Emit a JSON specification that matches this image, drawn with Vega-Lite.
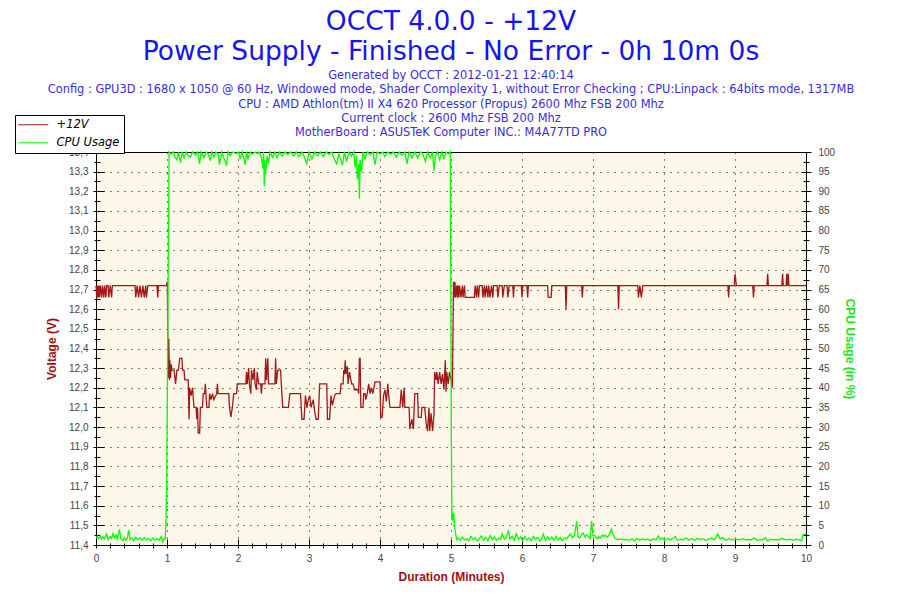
{
  "$schema": "https://vega.github.io/schema/vega-lite/v6.json",
  "width": 710,
  "height": 393,
  "autosize": "none",
  "padding": {"left": 96, "top": 152, "right": 94, "bottom": 55},
  "background": "white",
  "title": {
    "text": ["OCCT 4.0.0 - +12V", "Power Supply - Finished - No Error - 0h 10m 0s"],
    "subtitle": [
      "Generated by OCCT : 2012-01-21 12:40:14",
      "Config : GPU3D : 1680 x 1050 @ 60 Hz, Windowed mode, Shader Complexity 1, without Error Checking ; CPU:Linpack : 64bits mode, 1317MB",
      "CPU : AMD Athlon(tm) II X4 620 Processor (Propus) 2600 Mhz FSB 200 Mhz",
      "Current clock : 2600 Mhz FSB 200 Mhz",
      "MotherBoard : ASUSTeK Computer INC.: M4A77TD PRO"
    ],
    "anchor": "middle",
    "frame": "group",
    "font": "DejaVu Sans",
    "fontSize": 26.5,
    "fontWeight": "normal",
    "color": "#1414F0",
    "lineHeight": 30,
    "subtitleFont": "DejaVu Sans",
    "subtitleFontSize": 11.4,
    "subtitleColor": "#3a2be0",
    "subtitleLineHeight": 14.2,
    "subtitlePadding": 5,
    "offset": -24
  },
  "datasets": {
    "volt": [
      {"t":0,"v":12.72},{"t":0.01,"v":12.66},{"t":0.02,"v":12.72},{"t":0.03,"v":12.66},{"t":0.04,"v":12.72},{"t":0.05,"v":12.66},{"t":0.06,"v":12.72},{"t":0.08,"v":12.66},{"t":0.09,"v":12.72},{"t":0.11,"v":12.66},{"t":0.12,"v":12.72},{"t":0.14,"v":12.66},{"t":0.15,"v":12.72},{"t":0.17,"v":12.72},{"t":0.18,"v":12.66},{"t":0.2,"v":12.72},{"t":0.22,"v":12.66},{"t":0.23,"v":12.72},{"t":0.26,"v":12.72},
      {"t":0.55,"v":12.72},{"t":0.56,"v":12.66},{"t":0.58,"v":12.72},{"t":0.6,"v":12.66},{"t":0.62,"v":12.72},{"t":0.64,"v":12.66},{"t":0.66,"v":12.72},{"t":0.68,"v":12.66},{"t":0.7,"v":12.72},{"t":0.71,"v":12.66},{"t":0.73,"v":12.72},{"t":0.86,"v":12.72},{"t":0.87,"v":12.66},{"t":0.88,"v":12.72},{"t":0.99,"v":12.72},{"t":1.005,"v":12.74},
      {"t":1.015,"v":12.25},{"t":1.025,"v":12.45},{"t":1.035,"v":12.24},{"t":1.04,"v":12.34},{"t":1.05,"v":12.25},{"t":1.06,"v":12.32},{"t":1.07,"v":12.29},{"t":1.1,"v":12.29},{"t":1.12,"v":12.22},{"t":1.14,"v":12.29},{"t":1.16,"v":12.29},{"t":1.18,"v":12.35},{"t":1.21,"v":12.35},{"t":1.22,"v":12.29},{"t":1.24,"v":12.29},{"t":1.25,"v":12.24},{"t":1.3,"v":12.24},{"t":1.31,"v":12.04},{"t":1.32,"v":12.2},{"t":1.34,"v":12.16},{"t":1.36,"v":12.2},{"t":1.38,"v":12.1},{"t":1.41,"v":12.1},{"t":1.42,"v":12.04},{"t":1.43,"v":12.1},{"t":1.44,"v":11.97},{"t":1.46,"v":11.97},{"t":1.47,"v":12.1},{"t":1.5,"v":12.1},{"t":1.51,"v":12.17},{"t":1.53,"v":12.17},{"t":1.54,"v":12.22},{"t":1.56,"v":12.1},{"t":1.59,"v":12.1},{"t":1.6,"v":12.17},{"t":1.62,"v":12.14},{"t":1.64,"v":12.17},{"t":1.66,"v":12.14},{"t":1.7,"v":12.17},{"t":1.71,"v":12.22},{"t":1.72,"v":12.17},{"t":1.87,"v":12.17},{"t":1.88,"v":12.1},{"t":1.9,"v":12.05},{"t":1.92,"v":12.1},{"t":1.94,"v":12.17},{"t":1.98,"v":12.17},{"t":1.99,"v":12.22},
      {"t":2.11,"v":12.22},{"t":2.12,"v":12.28},{"t":2.13,"v":12.22},{"t":2.15,"v":12.3},{"t":2.16,"v":12.22},{"t":2.18,"v":12.17},{"t":2.19,"v":12.29},{"t":2.21,"v":12.24},{"t":2.23,"v":12.3},{"t":2.24,"v":12.22},{"t":2.26,"v":12.19},{"t":2.27,"v":12.28},{"t":2.29,"v":12.22},{"t":2.32,"v":12.22},{"t":2.33,"v":12.17},{"t":2.34,"v":12.22},{"t":2.38,"v":12.22},{"t":2.39,"v":12.35},{"t":2.4,"v":12.24},{"t":2.42,"v":12.35},{"t":2.43,"v":12.22},{"t":2.52,"v":12.22},{"t":2.53,"v":12.35},{"t":2.54,"v":12.22},{"t":2.56,"v":12.29},{"t":2.6,"v":12.29},{"t":2.61,"v":12.22},{"t":2.63,"v":12.1},{"t":2.71,"v":12.1},{"t":2.73,"v":12.17},{"t":2.88,"v":12.17},{"t":2.9,"v":12.04},{"t":2.93,"v":12.04},{"t":2.95,"v":12.16},{"t":2.97,"v":12.1},{"t":2.99,"v":12.14},
      {"t":3.01,"v":12.16},{"t":3.03,"v":12.1},{"t":3.06,"v":12.14},{"t":3.08,"v":12.08},{"t":3.1,"v":12.04},{"t":3.13,"v":12.04},{"t":3.15,"v":12.22},{"t":3.25,"v":12.22},{"t":3.26,"v":12.04},{"t":3.29,"v":12.04},{"t":3.31,"v":12.16},{"t":3.33,"v":12.11},{"t":3.36,"v":12.16},{"t":3.38,"v":12.17},{"t":3.44,"v":12.17},{"t":3.45,"v":12.22},{"t":3.48,"v":12.22},{"t":3.49,"v":12.29},{"t":3.5,"v":12.27},{"t":3.51,"v":12.34},{"t":3.52,"v":12.27},{"t":3.54,"v":12.31},{"t":3.55,"v":12.22},{"t":3.57,"v":12.28},{"t":3.6,"v":12.22},{"t":3.62,"v":12.22},{"t":3.64,"v":12.19},{"t":3.69,"v":12.19},{"t":3.7,"v":12.17},{"t":3.71,"v":12.35},{"t":3.72,"v":12.35},{"t":3.73,"v":12.1},{"t":3.76,"v":12.1},{"t":3.77,"v":12.17},{"t":3.79,"v":12.17},{"t":3.8,"v":12.14},{"t":3.82,"v":12.17},{"t":3.84,"v":12.22},{"t":3.86,"v":12.17},{"t":3.88,"v":12.2},{"t":3.9,"v":12.17},{"t":3.93,"v":12.23},
      {"t":4.0,"v":12.23},{"t":4.01,"v":12.05},{"t":4.03,"v":12.05},{"t":4.05,"v":12.16},{"t":4.07,"v":12.19},{"t":4.09,"v":12.13},{"t":4.11,"v":12.22},{"t":4.12,"v":12.17},{"t":4.14,"v":12.1},{"t":4.28,"v":12.1},{"t":4.3,"v":12.19},{"t":4.32,"v":12.1},{"t":4.34,"v":12.2},{"t":4.35,"v":12.1},{"t":4.41,"v":12.1},{"t":4.42,"v":11.99},{"t":4.45,"v":12.04},{"t":4.47,"v":11.99},{"t":4.49,"v":12.17},{"t":4.53,"v":12.17},{"t":4.54,"v":12.05},{"t":4.58,"v":12.05},{"t":4.59,"v":12.1},{"t":4.63,"v":12.1},{"t":4.65,"v":12.02},{"t":4.67,"v":11.98},{"t":4.69,"v":12.1},{"t":4.7,"v":11.98},{"t":4.72,"v":12.07},{"t":4.74,"v":11.98},{"t":4.76,"v":12.06},{"t":4.77,"v":12.28},{"t":4.79,"v":12.24},{"t":4.8,"v":12.28},{"t":4.82,"v":12.22},{"t":4.84,"v":12.28},{"t":4.86,"v":12.22},{"t":4.88,"v":12.27},{"t":4.9,"v":12.19},{"t":4.92,"v":12.34},{"t":4.93,"v":12.18},{"t":4.94,"v":12.28},{"t":4.96,"v":12.22},{"t":4.98,"v":12.28},{"t":5.0,"v":12.24},{"t":5.02,"v":12.2},
      {"t":5.035,"v":12.74},{"t":5.045,"v":12.66},{"t":5.055,"v":12.74},{"t":5.065,"v":12.66},{"t":5.08,"v":12.72},{"t":5.09,"v":12.66},{"t":5.1,"v":12.72},{"t":5.11,"v":12.66},{"t":5.12,"v":12.72},{"t":5.14,"v":12.66},{"t":5.16,"v":12.72},{"t":5.17,"v":12.66},{"t":5.19,"v":12.72},{"t":5.2,"v":12.66},{"t":5.33,"v":12.66},{"t":5.34,"v":12.72},{"t":5.36,"v":12.66},{"t":5.37,"v":12.72},{"t":5.39,"v":12.66},{"t":5.4,"v":12.72},{"t":5.44,"v":12.72},{"t":5.45,"v":12.66},{"t":5.47,"v":12.72},{"t":5.48,"v":12.66},{"t":5.5,"v":12.72},{"t":5.52,"v":12.66},{"t":5.53,"v":12.72},{"t":5.55,"v":12.66},{"t":5.57,"v":12.72},{"t":5.59,"v":12.66},{"t":5.6,"v":12.72},{"t":5.65,"v":12.72},{"t":5.66,"v":12.66},{"t":5.68,"v":12.72},{"t":5.72,"v":12.72},{"t":5.73,"v":12.66},{"t":5.75,"v":12.72},{"t":5.79,"v":12.72},{"t":5.8,"v":12.66},{"t":5.82,"v":12.72},{"t":5.87,"v":12.72},{"t":5.88,"v":12.66},{"t":5.89,"v":12.72},{"t":5.99,"v":12.72},{"t":6.0,"v":12.66},{"t":6.01,"v":12.72},{"t":6.07,"v":12.72},{"t":6.08,"v":12.66},{"t":6.09,"v":12.72},{"t":6.36,"v":12.72},{"t":6.37,"v":12.66},{"t":6.41,"v":12.66},{"t":6.42,"v":12.72},{"t":6.61,"v":12.72},{"t":6.62,"v":12.6},{"t":6.63,"v":12.72},{"t":6.84,"v":12.72},{"t":6.85,"v":12.66},{"t":6.86,"v":12.72},{"t":7.35,"v":12.72},{"t":7.36,"v":12.6},{"t":7.37,"v":12.72},{"t":7.63,"v":12.72},{"t":7.64,"v":12.66},{"t":7.66,"v":12.72},{"t":7.68,"v":12.66},{"t":7.7,"v":12.72},{"t":8.9,"v":12.72},{"t":8.91,"v":12.66},{"t":8.92,"v":12.72},{"t":8.99,"v":12.72},{"t":9.0,"v":12.78},{"t":9.02,"v":12.72},{"t":9.25,"v":12.72},{"t":9.26,"v":12.66},{"t":9.27,"v":12.72},{"t":9.45,"v":12.72},{"t":9.46,"v":12.78},{"t":9.47,"v":12.72},{"t":9.66,"v":12.72},{"t":9.67,"v":12.78},{"t":9.68,"v":12.72},{"t":9.72,"v":12.72},{"t":9.73,"v":12.78},{"t":9.74,"v":12.72},{"t":9.75,"v":12.78},{"t":9.76,"v":12.72},{"t":10,"v":12.72}
    ],
    "cpu": [
      {"t":0,"c":1.8},{"t":0.02,"c":2.2},{"t":0.04,"c":1.6},{"t":0.06,"c":2.4},{"t":0.08,"c":1.5},{"t":0.1,"c":2.1},{"t":0.12,"c":1.6},{"t":0.15,"c":2.8},{"t":0.17,"c":1.4},{"t":0.2,"c":2.2},{"t":0.22,"c":1.6},{"t":0.24,"c":2.9},{"t":0.26,"c":1.8},{"t":0.28,"c":2.6},{"t":0.3,"c":1.5},{"t":0.33,"c":4.0},{"t":0.35,"c":1.6},{"t":0.38,"c":1.1},{"t":0.4,"c":1.9},{"t":0.42,"c":1.2},{"t":0.44,"c":1.6},{"t":0.46,"c":3.8},{"t":0.48,"c":1.4},{"t":0.5,"c":1.8},{"t":0.53,"c":1.1},{"t":0.56,"c":2.0},{"t":0.59,"c":1.3},{"t":0.62,"c":1.8},{"t":0.65,"c":1.2},{"t":0.68,"c":1.9},{"t":0.71,"c":1.3},{"t":0.74,"c":1.7},{"t":0.77,"c":1.1},{"t":0.8,"c":1.8},{"t":0.83,"c":1.3},{"t":0.86,"c":1.6},{"t":0.89,"c":1.2},{"t":0.92,"c":2.2},{"t":0.94,"c":0.8},{"t":0.96,"c":1.7},{"t":0.975,"c":1.5},{"t":0.985,"c":6},{"t":0.995,"c":14},{"t":1.005,"c":38},{"t":1.02,"c":78},{"t":1.03,"c":100},
      {"t":1.06,"c":99.5},{"t":1.09,"c":100},{"t":1.11,"c":98.8},{"t":1.14,"c":98},{"t":1.16,"c":100},{"t":1.19,"c":97.3},{"t":1.21,"c":100},{"t":1.24,"c":98.5},{"t":1.27,"c":100},{"t":1.3,"c":99},{"t":1.33,"c":98.7},{"t":1.36,"c":100},{"t":1.4,"c":99.3},{"t":1.43,"c":100},{"t":1.46,"c":97},{"t":1.48,"c":100},{"t":1.52,"c":98.5},{"t":1.55,"c":100},{"t":1.58,"c":99.5},{"t":1.61,"c":97.8},{"t":1.63,"c":100},{"t":1.66,"c":98.7},{"t":1.69,"c":100},{"t":1.72,"c":99.5},{"t":1.74,"c":96.8},{"t":1.77,"c":100},{"t":1.8,"c":98.5},{"t":1.84,"c":96.8},{"t":1.86,"c":100},{"t":1.89,"c":99},{"t":1.92,"c":100},{"t":1.95,"c":99.8},{"t":1.98,"c":99.6},
      {"t":2.01,"c":100},{"t":2.03,"c":98.2},{"t":2.06,"c":100},{"t":2.1,"c":96.8},{"t":2.12,"c":100},{"t":2.14,"c":98.3},{"t":2.17,"c":100},{"t":2.2,"c":99.4},{"t":2.24,"c":100},{"t":2.27,"c":99.6},{"t":2.3,"c":100},{"t":2.33,"c":98.5},{"t":2.35,"c":95.9},{"t":2.36,"c":100},{"t":2.37,"c":91.3},{"t":2.38,"c":98},{"t":2.39,"c":94.5},{"t":2.41,"c":99},{"t":2.43,"c":97},{"t":2.45,"c":100},{"t":2.49,"c":98.6},{"t":2.52,"c":100},{"t":2.55,"c":98.5},{"t":2.58,"c":100},{"t":2.62,"c":99},{"t":2.66,"c":100},{"t":2.7,"c":99.4},{"t":2.74,"c":100},{"t":2.78,"c":99},{"t":2.82,"c":100},{"t":2.86,"c":98.8},{"t":2.9,"c":100},{"t":2.93,"c":99},{"t":2.97,"c":97},
      {"t":3.0,"c":100},{"t":3.04,"c":98.2},{"t":3.08,"c":100},{"t":3.12,"c":99},{"t":3.16,"c":100},{"t":3.2,"c":98.8},{"t":3.24,"c":100},{"t":3.28,"c":99.4},{"t":3.32,"c":100},{"t":3.36,"c":98},{"t":3.39,"c":97},{"t":3.42,"c":99.6},{"t":3.45,"c":98},{"t":3.47,"c":96.6},{"t":3.5,"c":100},{"t":3.53,"c":97.5},{"t":3.56,"c":100},{"t":3.6,"c":99},{"t":3.63,"c":100},{"t":3.65,"c":96},{"t":3.67,"c":99},{"t":3.68,"c":93},{"t":3.7,"c":97},{"t":3.71,"c":88.1},{"t":3.72,"c":98},{"t":3.74,"c":95},{"t":3.76,"c":100},{"t":3.79,"c":98.3},{"t":3.82,"c":100},{"t":3.86,"c":99.3},{"t":3.9,"c":100},{"t":3.93,"c":96.8},{"t":3.96,"c":100},
      {"t":4.0,"c":99.5},{"t":4.04,"c":100},{"t":4.07,"c":98.8},{"t":4.11,"c":100},{"t":4.15,"c":99.4},{"t":4.19,"c":100},{"t":4.23,"c":98.7},{"t":4.27,"c":100},{"t":4.31,"c":99.2},{"t":4.35,"c":100},{"t":4.38,"c":97},{"t":4.41,"c":100},{"t":4.45,"c":98.5},{"t":4.49,"c":100},{"t":4.53,"c":98.5},{"t":4.57,"c":100},{"t":4.6,"c":99.6},{"t":4.64,"c":97.6},{"t":4.67,"c":100},{"t":4.71,"c":98.5},{"t":4.74,"c":100},{"t":4.76,"c":95.2},{"t":4.78,"c":99},{"t":4.81,"c":100},{"t":4.84,"c":98},{"t":4.87,"c":100},{"t":4.9,"c":98.3},{"t":4.93,"c":100},{"t":4.96,"c":99.5},{"t":4.99,"c":100},{"t":4.995,"c":73.8},{"t":5.005,"c":27.6},{"t":5.012,"c":6.4},{"t":5.02,"c":8.5},{"t":5.03,"c":6},{"t":5.04,"c":8},{"t":5.05,"c":4.5},{"t":5.06,"c":3.5},{"t":5.08,"c":1.3},
      {"t":5.1,"c":1.8},{"t":5.13,"c":1.2},{"t":5.16,"c":2.0},{"t":5.19,"c":1.3},{"t":5.22,"c":1.6},{"t":5.25,"c":1.1},{"t":5.28,"c":2.2},{"t":5.31,"c":1.4},{"t":5.34,"c":1.8},{"t":5.37,"c":1.0},{"t":5.4,"c":1.6},{"t":5.43,"c":2.3},{"t":5.46,"c":1.2},{"t":5.49,"c":1.9},{"t":5.52,"c":1.1},{"t":5.55,"c":2.4},{"t":5.58,"c":1.3},{"t":5.61,"c":2.0},{"t":5.64,"c":1.2},{"t":5.67,"c":1.7},{"t":5.7,"c":1.4},{"t":5.72,"c":2.8},{"t":5.75,"c":1.5},{"t":5.78,"c":2.0},{"t":5.81,"c":3.8},{"t":5.83,"c":1.6},{"t":5.86,"c":2.2},{"t":5.89,"c":1.2},{"t":5.92,"c":2.9},{"t":5.95,"c":1.5},{"t":5.98,"c":2.0},
      {"t":6.01,"c":1.0},{"t":6.04,"c":2.1},{"t":6.07,"c":1.3},{"t":6.1,"c":1.8},{"t":6.13,"c":1.1},{"t":6.16,"c":2.2},{"t":6.19,"c":1.4},{"t":6.22,"c":1.9},{"t":6.25,"c":1.0},{"t":6.28,"c":1.7},{"t":6.3,"c":2.8},{"t":6.33,"c":1.2},{"t":6.36,"c":2.1},{"t":6.39,"c":1.4},{"t":6.42,"c":2.0},{"t":6.45,"c":1.2},{"t":6.48,"c":2.2},{"t":6.51,"c":1.3},{"t":6.54,"c":1.9},{"t":6.57,"c":1.1},{"t":6.6,"c":1.8},{"t":6.63,"c":1.6},{"t":6.66,"c":2.3},{"t":6.68,"c":2.8},{"t":6.71,"c":1.8},{"t":6.74,"c":2.5},{"t":6.77,"c":6.1},{"t":6.79,"c":2.0},{"t":6.81,"c":1.8},{"t":6.84,"c":2.6},{"t":6.86,"c":3.0},{"t":6.89,"c":2.0},{"t":6.91,"c":2.6},{"t":6.93,"c":2.2},{"t":6.96,"c":1.6},{"t":6.98,"c":6.1},
      {"t":7.0,"c":2.4},{"t":7.03,"c":2.4},{"t":7.06,"c":1.6},{"t":7.08,"c":2.2},{"t":7.1,"c":1.7},{"t":7.13,"c":2.5},{"t":7.15,"c":2.2},{"t":7.17,"c":2.5},{"t":7.2,"c":2.0},{"t":7.23,"c":2.6},{"t":7.26,"c":4.0},{"t":7.28,"c":2.8},{"t":7.31,"c":1.7},{"t":7.35,"c":1.4},{"t":7.39,"c":1.5},{"t":7.43,"c":1.3},{"t":7.47,"c":1.4},{"t":7.51,"c":1.2},{"t":7.55,"c":1.6},{"t":7.58,"c":1.0},{"t":7.62,"c":1.7},{"t":7.66,"c":1.2},{"t":7.7,"c":1.6},{"t":7.73,"c":1.3},{"t":7.77,"c":1.5},{"t":7.81,"c":1.1},{"t":7.85,"c":1.6},{"t":7.89,"c":1.3},{"t":7.92,"c":2.3},{"t":7.95,"c":1.4},{"t":7.98,"c":1.8},
      {"t":8.01,"c":1.0},{"t":8.05,"c":1.7},{"t":8.08,"c":1.3},{"t":8.12,"c":1.6},{"t":8.16,"c":2.1},{"t":8.19,"c":1.2},{"t":8.23,"c":1.5},{"t":8.27,"c":1.3},{"t":8.31,"c":1.8},{"t":8.35,"c":1.3},{"t":8.39,"c":1.6},{"t":8.43,"c":1.2},{"t":8.47,"c":1.7},{"t":8.51,"c":1.3},{"t":8.55,"c":1.6},{"t":8.59,"c":1.2},{"t":8.63,"c":1.5},{"t":8.67,"c":1.8},{"t":8.71,"c":1.3},{"t":8.76,"c":2.8},{"t":8.79,"c":1.5},{"t":8.83,"c":1.9},{"t":8.87,"c":1.2},{"t":8.91,"c":1.6},{"t":8.95,"c":1.3},{"t":8.99,"c":1.4},
      {"t":9.03,"c":1.4},{"t":9.07,"c":1.3},{"t":9.11,"c":1.6},{"t":9.15,"c":1.3},{"t":9.19,"c":1.4},{"t":9.23,"c":1.3},{"t":9.27,"c":1.8},{"t":9.31,"c":1.2},{"t":9.35,"c":1.4},{"t":9.39,"c":1.3},{"t":9.43,"c":1.8},{"t":9.46,"c":1.0},{"t":9.5,"c":1.5},{"t":9.54,"c":1.3},{"t":9.58,"c":1.4},{"t":9.62,"c":1.3},{"t":9.66,"c":1.7},{"t":9.7,"c":1.4},{"t":9.74,"c":1.3},{"t":9.78,"c":1.5},{"t":9.82,"c":1.2},{"t":9.86,"c":1.5},{"t":9.9,"c":1.3},{"t":9.94,"c":1.1},{"t":9.96,"c":2.7},{"t":10,"c":2.7}
    ]
  },
  "layer": [
    {
      "data": {"name": "volt"},
      "mark": {"type": "line", "strokeWidth": 1.3},
      "encoding": {
        "x": {
          "field": "t", "type": "quantitative",
          "scale": {"domain": [0, 10], "nice": false, "zero": false},
          "axis": {
            "orient": "bottom",
            "values": [0, 1, 2, 3, 4, 5, 6, 7, 8, 9, 10],
            "tickSize": 3, "labelPadding": 5,
            "title": "Duration (Minutes)", "titleColor": "#A01010", "titlePadding": 8,
            "grid": true
          }
        },
        "y": {
          "field": "v", "type": "quantitative",
          "scale": {"domain": [11.4, 13.4], "nice": false, "zero": false},
          "axis": {
            "orient": "left",
            "values": [11.4, 11.5, 11.6, 11.7, 11.8, 11.9, 12.0, 12.1, 12.2, 12.3, 12.4, 12.5, 12.6, 12.7, 12.8, 12.9, 13.0, 13.1, 13.2, 13.3, 13.4],
            "tickSize": 3, "labelPadding": 5,
            "labelExpr": "replace(format(datum.value, '.1f'), '.', ',')",
            "title": "Voltage (V)", "titleColor": "#A01010", "titlePadding": 10,
            "grid": true
          }
        },
        "color": {
          "datum": "+12V", "type": "nominal",
          "scale": {"domain": ["+12V", "CPU Usage"], "range": ["#A31717", "#00FF00"]},
          "legend": {
            "orient": "none", "legendX": -81, "legendY": -37,
            "title": null, "direction": "vertical",
            "strokeColor": "black", "fillColor": "white", "padding": 4,
            "symbolType": "M-3,0H3", "symbolSize": 100, "symbolStrokeWidth": 1, "symbolOffset": 8.5,
            "labelFont": "DejaVu Sans", "labelFontStyle": "italic", "labelFontSize": 11.5,
            "labelColor": "black", "labelOffset": 17.5, "rowPadding": 5
          }
        }
      }
    },
    {
      "data": {"name": "cpu"},
      "mark": {"type": "line", "strokeWidth": 1.3},
      "encoding": {
        "x": {"field": "t", "type": "quantitative", "scale": {"domain": [0, 10], "nice": false, "zero": false}, "axis": null},
        "y": {
          "field": "c", "type": "quantitative",
          "scale": {"domain": [0, 100], "nice": false, "zero": false},
          "axis": {
            "orient": "right",
            "values": [0, 5, 10, 15, 20, 25, 30, 35, 40, 45, 50, 55, 60, 65, 70, 75, 80, 85, 90, 95, 100],
            "tickSize": 5, "labelPadding": 7,
            "title": "CPU Usage (in %)", "titleColor": "#19E619", "titlePadding": 8,
            "grid": false
          }
        },
        "color": {"datum": "CPU Usage", "type": "nominal"}
      }
    },
    {
      "data": {"name": "volt"},
      "mark": {"type": "line", "strokeOpacity": 0},
      "encoding": {
        "x": {
          "field": "t", "type": "quantitative", "scale": {"domain": [0, 10], "nice": false, "zero": false},
          "axis": {"orient": "bottom", "values": [0, 1, 2, 3, 4, 5, 6, 7, 8, 9, 10], "tickSize": -6, "labels": false, "domain": false, "grid": false, "title": null}
        },
        "y": {
          "field": "v", "type": "quantitative", "scale": {"domain": [11.4, 13.4], "nice": false, "zero": false},
          "axis": {"orient": "left", "values": [11.4, 11.5, 11.6, 11.7, 11.8, 11.9, 12.0, 12.1, 12.2, 12.3, 12.4, 12.5, 12.6, 12.7, 12.8, 12.9, 13.0, 13.1, 13.2, 13.3, 13.4], "tickSize": -8, "labels": false, "domain": false, "grid": false, "title": null}
        }
      }
    },
    {
      "data": {"name": "volt"},
      "mark": {"type": "line", "strokeOpacity": 0},
      "encoding": {
        "x": {
          "field": "t", "type": "quantitative", "scale": {"domain": [0, 10], "nice": false, "zero": false},
          "axis": {"orient": "bottom", "values": [0.2, 0.4, 0.6, 0.8, 1.2, 1.4, 1.6, 1.8, 2.2, 2.4, 2.6, 2.8, 3.2, 3.4, 3.6, 3.8, 4.2, 4.4, 4.6, 4.8, 5.2, 5.4, 5.6, 5.8, 6.2, 6.4, 6.6, 6.8, 7.2, 7.4, 7.6, 7.8, 8.2, 8.4, 8.6, 8.8, 9.2, 9.4, 9.6, 9.8], "tickSize": 3, "labels": false, "domain": false, "grid": false, "title": null}
        },
        "y": {
          "field": "v", "type": "quantitative", "scale": {"domain": [11.4, 13.4], "nice": false, "zero": false},
          "axis": {"orient": "left", "values": [11.45, 11.55, 11.65, 11.75, 11.85, 11.95, 12.05, 12.15, 12.25, 12.35, 12.45, 12.55, 12.65, 12.75, 12.85, 12.95, 13.05, 13.15, 13.25, 13.35], "tickSize": 2, "labels": false, "domain": false, "grid": false, "title": null}
        }
      }
    },
    {
      "data": {"name": "volt"},
      "mark": {"type": "line", "strokeOpacity": 0},
      "encoding": {
        "x": {
          "field": "t", "type": "quantitative", "scale": {"domain": [0, 10], "nice": false, "zero": false},
          "axis": {"orient": "bottom", "values": [0.2, 0.4, 0.6, 0.8, 1.2, 1.4, 1.6, 1.8, 2.2, 2.4, 2.6, 2.8, 3.2, 3.4, 3.6, 3.8, 4.2, 4.4, 4.6, 4.8, 5.2, 5.4, 5.6, 5.8, 6.2, 6.4, 6.6, 6.8, 7.2, 7.4, 7.6, 7.8, 8.2, 8.4, 8.6, 8.8, 9.2, 9.4, 9.6, 9.8], "tickSize": -2, "labels": false, "domain": false, "grid": false, "title": null}
        },
        "y": {
          "field": "v", "type": "quantitative", "scale": {"domain": [11.4, 13.4], "nice": false, "zero": false},
          "axis": {"orient": "left", "values": [11.45, 11.55, 11.65, 11.75, 11.85, 11.95, 12.05, 12.15, 12.25, 12.35, 12.45, 12.55, 12.65, 12.75, 12.85, 12.95, 13.05, 13.15, 13.25, 13.35], "tickSize": -4, "labels": false, "domain": false, "grid": false, "title": null}
        }
      }
    },
    {
      "data": {"name": "cpu"},
      "mark": {"type": "line", "strokeOpacity": 0},
      "encoding": {
        "x": {"field": "t", "type": "quantitative", "scale": {"domain": [0, 10], "nice": false, "zero": false}, "axis": null},
        "y": {
          "field": "c", "type": "quantitative", "scale": {"domain": [0, 100], "nice": false, "zero": false},
          "axis": {"orient": "right", "values": [0, 5, 10, 15, 20, 25, 30, 35, 40, 45, 50, 55, 60, 65, 70, 75, 80, 85, 90, 95, 100], "tickSize": -5, "labels": false, "domain": false, "grid": false, "title": null}
        }
      }
    },
    {
      "data": {"name": "cpu"},
      "mark": {"type": "line", "strokeOpacity": 0},
      "encoding": {
        "x": {"field": "t", "type": "quantitative", "scale": {"domain": [0, 10], "nice": false, "zero": false}, "axis": null},
        "y": {
          "field": "c", "type": "quantitative", "scale": {"domain": [0, 100], "nice": false, "zero": false},
          "axis": {"orient": "right", "values": [2.5, 7.5, 12.5, 17.5, 22.5, 27.5, 32.5, 37.5, 42.5, 47.5, 52.5, 57.5, 62.5, 67.5, 72.5, 77.5, 82.5, 87.5, 92.5, 97.5], "tickSize": 3, "labels": false, "domain": false, "grid": false, "title": null}
        }
      }
    },
    {
      "data": {"name": "cpu"},
      "mark": {"type": "line", "strokeOpacity": 0},
      "encoding": {
        "x": {"field": "t", "type": "quantitative", "scale": {"domain": [0, 10], "nice": false, "zero": false}, "axis": null},
        "y": {
          "field": "c", "type": "quantitative", "scale": {"domain": [0, 100], "nice": false, "zero": false},
          "axis": {"orient": "right", "values": [2.5, 7.5, 12.5, 17.5, 22.5, 27.5, 32.5, 37.5, 42.5, 47.5, 52.5, 57.5, 62.5, 67.5, 72.5, 77.5, 82.5, 87.5, 92.5, 97.5], "tickSize": -3, "labels": false, "domain": false, "grid": false, "title": null}
        }
      }
    }
  ],
  "resolve": {
    "scale": {"y": "independent"},
    "axis": {"x": "independent", "y": "independent"}
  },
  "config": {
    "view": {"fill": "#FCF7E9", "stroke": "black", "strokeWidth": 1},
    "axis": {
      "domainColor": "black",
      "tickColor": "black",
      "labelFont": "Liberation Sans",
      "labelFontSize": 10,
      "labelColor": "#444444",
      "labelFlush": false,
      "labelOverlap": false,
      "titleFont": "Liberation Sans",
      "titleFontSize": 12,
      "titleFontWeight": "bold",
      "gridColor": "black",
      "gridDash": [1, 6],
      "gridOpacity": 1
    }
  }
}
